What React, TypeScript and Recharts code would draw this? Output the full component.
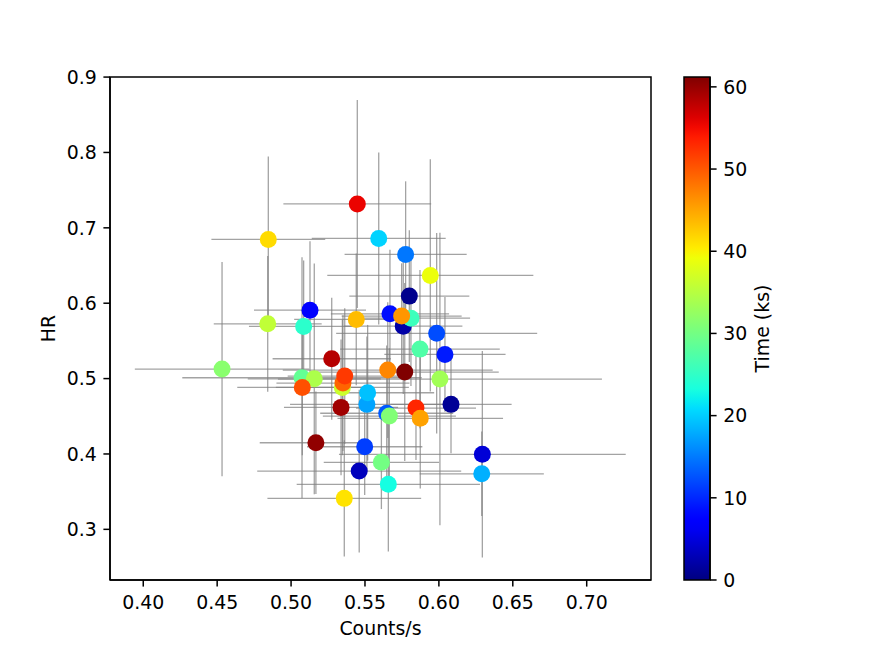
import React from 'react';
import {
  ScatterChart,
  Scatter,
  XAxis,
  YAxis,
  ErrorBar,
  ReferenceArea,
  ComposedChart,
  Label,
} from 'recharts';

// ---- data ----
const counts = [
  0.5800, 0.6082, 0.5759, 0.5461, 0.6294, 0.5128, 0.5669, 0.6041, 0.5498, 0.5985,
  0.5647, 0.5775, 0.5513, 0.6290, 0.5518, 0.5593, 0.5658, 0.5085, 0.5811, 0.5872,
  0.5074, 0.5611, 0.5665, 0.4533, 0.6007, 0.5157, 0.4842, 0.5347, 0.5942, 0.5360,
  0.4846, 0.5441, 0.5748, 0.5654, 0.5351, 0.5076, 0.5363, 0.5845, 0.5448, 0.5874,
  0.5275, 0.5338, 0.5168, 0.5769,
];
const hr = [
  0.6094, 0.4658, 0.5696, 0.3773, 0.3995, 0.5908, 0.5859, 0.5321, 0.4096, 0.5600,
  0.4540, 0.6647, 0.4658, 0.3737, 0.4812, 0.6859, 0.3597, 0.5692, 0.5802, 0.5391,
  0.5011, 0.3889, 0.4503, 0.5126, 0.4994, 0.4997, 0.5727, 0.4883, 0.6369, 0.3411,
  0.6846, 0.5785, 0.5829, 0.5113, 0.4940, 0.4883, 0.5033, 0.4609, 0.7317, 0.4473,
  0.5263, 0.4618, 0.4149, 0.5087,
];
const timeKs = [
  0.7, 1.2, 2.1, 3.2, 4.6, 7.2, 8.4, 9.2, 11.3, 12.2,
  13.0, 14.8, 17.4, 18.2, 19.2, 20.3, 23.0, 24.6, 25.8, 27.3,
  28.8, 30.0, 31.0, 31.6, 33.4, 34.2, 35.7, 36.5, 39.0, 41.0,
  41.5, 43.5, 46.0, 47.0, 49.3, 50.5, 52.0, 53.2, 55.5, 45.2,
  58.3, 59.5, 60.3, 61.2,
];
const countsErr = [
  0.0406, 0.0410, 0.0400, 0.0690, 0.0970, 0.0379, 0.0400, 0.0410, 0.0390, 0.0680,
  0.0450, 0.0413, 0.0520, 0.0420, 0.0450, 0.0453, 0.0620, 0.0370, 0.0400, 0.0540,
  0.0810, 0.0390, 0.0450, 0.0590, 0.1096, 0.0450, 0.0365, 0.0450, 0.0697, 0.0520,
  0.0385, 0.0420, 0.0406, 0.0710, 0.0450, 0.0440, 0.0386, 0.0406, 0.0500, 0.0560,
  0.0400, 0.0386, 0.0380, 0.0636,
];
const hrErr = [
  0.0875, 0.0650, 0.0900, 0.1080, 0.1370, 0.0915, 0.0850, 0.0760, 0.0640, 0.1330,
  0.0900, 0.0970, 0.0900, 0.0560, 0.0900, 0.1140, 0.0890, 0.0875, 0.0900, 0.1050,
  0.1600, 0.0620, 0.0900, 0.1420, 0.1940, 0.1530, 0.0900, 0.0900, 0.1540, 0.0770,
  0.1100, 0.0875, 0.0700, 0.0900, 0.0900, 0.0900, 0.0900, 0.0690, 0.1380, 0.0930,
  0.0810, 0.0900, 0.0680, 0.1180,
];

const xTicks = [0.4, 0.45, 0.5, 0.55, 0.6, 0.65, 0.7];
const yTicks = [0.3, 0.4, 0.5, 0.6, 0.7, 0.8, 0.9];
const cbTicks = [0, 10, 20, 30, 40, 50, 60];
const T_MAX = 61.2;
const X_DOMAIN: [number, number] = [0.3775, 0.7435];
const Y_DOMAIN: [number, number] = [0.2328, 0.9001];

// ---- matplotlib "jet" colormap ----
const JET: Record<string, number[][]> = {
  r: [[0, 0], [0.35, 0], [0.66, 1], [0.89, 1], [1, 0.5]],
  g: [[0, 0], [0.125, 0], [0.375, 1], [0.64, 1], [0.91, 0], [1, 0]],
  b: [[0, 0.5], [0.11, 1], [0.34, 1], [0.65, 0], [1, 0]],
};
function seg(pts: number[][], v: number) {
  const x = Math.max(0, Math.min(1, v));
  for (let i = 1; i < pts.length; i++) {
    if (x <= pts[i][0]) {
      const [x0, y0] = pts[i - 1];
      const [x1, y1] = pts[i];
      return y0 + ((y1 - y0) * (x - x0)) / (x1 - x0);
    }
  }
  return pts[pts.length - 1][1];
}
function jet(v: number) {
  const r = Math.round(seg(JET.r, v) * 255);
  const g = Math.round(seg(JET.g, v) * 255);
  const b = Math.round(seg(JET.b, v) * 255);
  return `rgb(${r},${g},${b})`;
}

const data = counts.map((x, i) => ({
  x,
  y: hr[i],
  t: timeKs[i],
  xerr: countsErr[i],
  yerr: hrErr[i],
}));
const cbData = cbTicks.map((t) => ({ pos: 0.5, t }));

const FONT = 'DejaVu Sans';
const FS = 18.9;
const tickStyle = { fontSize: FS, fontFamily: FONT, fill: '#000' };
const lineStyle = { stroke: '#000', strokeWidth: 1.5 };
const ERR = 'rgba(128,128,128,0.72)';

const Dot = (props: any) => {
  const { cx, cy, payload } = props;
  if (cx == null || cy == null) return null;
  return <circle cx={cx} cy={cy} r={8.5} fill={jet(payload.t / T_MAX)} />;
};

const gradStops = Array.from({ length: 51 }, (_, i) => i / 50);

export default function App() {
  return (
    <div style={{ position: 'absolute', left: 0, top: 0, width: 872, height: 653, background: '#fff' }}>
      <svg width={0} height={0} style={{ position: 'absolute' }}>
        <defs>
          <linearGradient id="jetGradient" x1="0" y1="1" x2="0" y2="0">
            {gradStops.map((o) => (
              <stop key={o} offset={o} stopColor={jet(o)} />
            ))}
          </linearGradient>
        </defs>
      </svg>

      <div style={{ position: 'absolute', left: 0, top: 0 }}>
        <ScatterChart width={872} height={653} margin={{ top: 77, right: 221, bottom: 13, left: 50 }}>
          <XAxis
            type="number"
            dataKey="x"
            domain={X_DOMAIN}
            ticks={xTicks}
            interval={0}
            allowDataOverflow
            height={60}
            tickSize={6.6}
            tickMargin={9}
            tick={tickStyle}
            axisLine={lineStyle}
            tickLine={lineStyle}
            tickFormatter={(v: number) => v.toFixed(2)}
          >
            <Label
              content={(p: any) => {
                const vb = p.viewBox || {};
                const cx = vb.x + vb.width / 2;
                const y = vb.y + 55;
                return (
                  <text x={cx} y={y} textAnchor="middle" fontSize={FS} fontFamily={FONT} fill="#000">
                    Counts/s
                  </text>
                );
              }}
            />
          </XAxis>
          <YAxis
            type="number"
            dataKey="y"
            domain={Y_DOMAIN}
            ticks={yTicks}
            interval={0}
            allowDataOverflow
            width={60}
            tickSize={6.6}
            tickMargin={6.6}
            tick={tickStyle}
            axisLine={lineStyle}
            tickLine={lineStyle}
            tickFormatter={(v: number) => v.toFixed(1)}
          >
            <Label
              content={(p: any) => {
                const vb = p.viewBox || {};
                const cy = vb.y + vb.height / 2;
                const x = vb.x + 4.6;
                return (
                  <text
                    x={x}
                    y={cy}
                    transform={`rotate(-90 ${x} ${cy})`}
                    textAnchor="middle"
                    fontSize={FS}
                    fontFamily={FONT}
                    fill="#000"
                  >
                    HR
                  </text>
                );
              }}
            />
          </YAxis>
          <Scatter data={data} isAnimationActive={false} shape={Dot}>
            <ErrorBar dataKey="xerr" direction="x" width={0} stroke={ERR} strokeWidth={1.3} />
            <ErrorBar dataKey="yerr" direction="y" width={0} stroke={ERR} strokeWidth={1.3} />
          </Scatter>
          <ReferenceArea
            x1={X_DOMAIN[0]}
            x2={X_DOMAIN[1]}
            y1={Y_DOMAIN[0]}
            y2={Y_DOMAIN[1]}
            fill="none"
            stroke="#000"
            strokeWidth={1.5}
          />
        </ScatterChart>
      </div>

      <div style={{ position: 'absolute', left: 0, top: 0 }}>
        <ComposedChart width={872} height={653} data={cbData} margin={{ top: 77, right: 102, bottom: 73, left: 684 }}>
          <XAxis type="number" dataKey="pos" domain={[0, 1]} allowDataOverflow hide />
          <YAxis
            type="number"
            dataKey="t"
            orientation="right"
            domain={[0, T_MAX]}
            ticks={cbTicks}
            interval={0}
            allowDataOverflow
            width={60}
            tickSize={6.6}
            tickMargin={6.6}
            tick={tickStyle}
            axisLine={lineStyle}
            tickLine={lineStyle}
          >
            <Label
              content={(p: any) => {
                const vb = p.viewBox || {};
                const cy = vb.y + vb.height / 2;
                const x = vb.x + 59.2;
                return (
                  <text
                    x={x}
                    y={cy}
                    transform={`rotate(-90 ${x} ${cy})`}
                    textAnchor="middle"
                    fontSize={FS}
                    fontFamily={FONT}
                    fill="#000"
                  >
                    Time (ks)
                  </text>
                );
              }}
            />
          </YAxis>
          <ReferenceArea
            x1={0}
            x2={1}
            y1={0}
            y2={T_MAX}
            fill="url(#jetGradient)"
            fillOpacity={1}
            stroke="#000"
            strokeWidth={1.5}
          />
        </ComposedChart>
      </div>
    </div>
  );
}
